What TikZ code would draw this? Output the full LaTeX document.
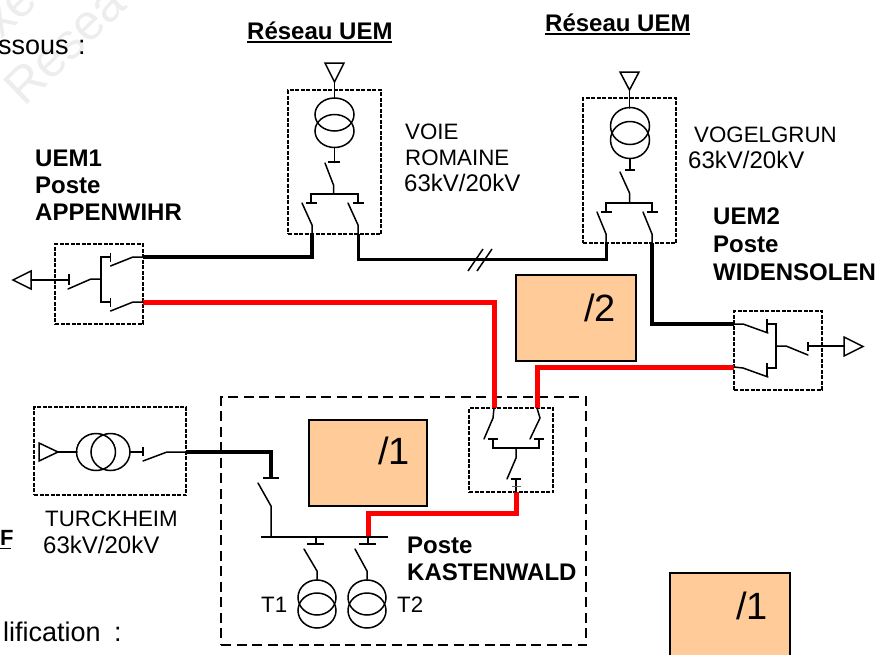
\documentclass[tikz,border=0pt]{standalone}
\usepackage{fontspec}
\setmainfont{Liberation Sans}
\usetikzlibrary{shapes.geometric}

\definecolor{studyfill}{HTML}{FFCC99}
\tikzset{
    bay/.style={draw, line width=1.9pt, dash pattern=on 4pt off 1.5pt, inner sep=0pt},
    wire/.style={line width=3.8pt, black},
    redwire/.style={line width=5pt, red},
    dev/.style={line width=1.5pt, line cap=round},
    bar/.style={line width=1.8pt},
    winding/.style={draw, ellipse, line width=1.5pt, inner sep=0pt},
    tag/.style={font=\fontsize{22.3}{26}\selectfont, anchor=base west, inner sep=0pt},
    rating/.style={font=\fontsize{24}{26}\selectfont, anchor=base west, inner sep=0pt},
    page/.style={font=\fontsize{27}{30}\selectfont, anchor=base west, inner sep=0pt},
    bold/.style={font=\fontsize{24}{26}\selectfont\bfseries, anchor=base west, inner sep=0pt},
    study/.style={draw, line width=1.5pt, fill=studyfill, inner sep=0pt},
    share/.style={font=\fontsize{38}{40}\selectfont, inner sep=0pt}
}

\begin{document}
\begin{tikzpicture}[x=1pt, y=-1pt]
    \useasboundingbox (0,0) rectangle (891,654);
    \clip (0,0) rectangle (891,654);

    % watermark and cut off page text
    \node[font=\fontsize{50}{50}\selectfont, text=black!7, rotate=44, anchor=base west] (markA) at (22,110) {Resea};
    \node[font=\fontsize{50}{50}\selectfont, text=black!7, rotate=44, anchor=base west] (markB) at (-25,65) {Exe};
    \node[page] (pageA) at (-2,54) {ssous\hspace{2pt} :};
    \node[page] (pageB) at (3,641) {lification\hspace{6pt} :};
    \node[bold, font=\fontsize{22}{26}\selectfont\bfseries] (pageC) at (0,545) {F};
    \draw[line width=1.8pt] (pageC.base west) ++(0,3.5) -- ++(11,0);

    % study boxes
    \node[study, minimum width=120pt, minimum height=86pt] (boxB) at (576,318) {};
    \node[study, minimum width=118pt, minimum height=86pt] (boxA) at (368,463) {};
    \node[study, minimum width=120pt, minimum height=100pt] (boxC) at (730,623) {};
    \node[share] (shareB) at (600,308) {/2};
    \node[share] (shareA) at (394,451) {/1};
    \node[share] (shareC) at (752,606) {/1};

    % bays
    \node[bay, minimum width=93pt, minimum height=144pt] (voie) at (334.5,162) {};
    \node[bay, minimum width=93pt, minimum height=145pt] (vogel) at (629.5,170.5) {};
    \node[bay, minimum width=88pt, minimum height=80pt] (appen) at (99,284) {};
    \node[bay, minimum width=88pt, minimum height=79pt] (widen) at (778,350.5) {};
    \node[bay, minimum width=84pt, minimum height=84pt] (kast) at (511,450) {};
    \node[bay, minimum width=152pt, minimum height=88pt] (turck) at (110,451) {};
    \node[draw, line width=2.2pt, dash pattern=on 10pt off 5.5pt, minimum width=365pt, minimum height=248pt] (site) at (403.5,521) {};

    % terminals on the bay edges
    \coordinate (voieA) at (312,234);
    \coordinate (voieB) at (358,234);
    \coordinate (vogelA) at (606,243);
    \coordinate (vogelB) at (652,243);
    \coordinate (appenA) at (143,257);
    \coordinate (appenB) at (143,302);
    \coordinate (widenA) at (734,324);
    \coordinate (widenB) at (734,367);
    \coordinate (kastA) at (494,408);
    \coordinate (kastB) at (537,408);
    \coordinate (kastC) at (516,492);
    \coordinate (turckA) at (186,452);
    \coordinate (busIn) at (368,537);
    \coordinate (lineIn) at (271,478);

    % connections
    \draw[wire] (voieA) |- (appenA);
    \draw[wire, line width=3pt] (voieB) -- ++(0,25) -| (vogelA);
    \draw[wire, line width=4.8pt] (vogelB) |- (widenA);
    \draw[wire] (turckA) -| (lineIn);
    \draw[redwire] (appenB) -| (kastA);
    \draw[redwire] (widenB) -| (kastB);
    \draw[redwire] (kastC) |- ++(-148,21) -- (busIn);
    \draw[line width=1.5pt] (voieB) ++(110,37) -- ++(15,-22);
    \draw[line width=1.5pt] (voieB) ++(119,37) -- ++(15,-22);

    % VOIE ROMAINE
    \draw[dev] (325,63) -- (344,63) -- (334.5,82) -- cycle;
    \draw[dev] (334.5,82) -- (334.5,98);
    \node[winding, minimum width=39pt, minimum height=33pt] (voieU) at (334.5,114.5) {};
    \node[winding, minimum width=39pt, minimum height=33pt] (voieL) at (334.5,131) {};
    \draw[dev] (voieL.south) -- (334.5,162);
    \draw[bar] (328,162) -- (340,162);
    \draw[dev] (325,163) -- (333.5,185) -- (333.5,194);
    \draw[bar] (306,203) -- (317,203) (353,203) -- (364,203);
    \draw[bar] (311,203) |- (358,194) -- (358,203);
    \draw[dev] (302,203) -- (312,225) -- (voieA);
    \draw[dev] (348,203) -- (358,225) -- (voieB);

    % VOGELGRUN
    \draw[dev] (620,72) -- (639,72) -- (629.5,90) -- cycle;
    \draw[dev] (629.5,90) -- (629.5,108);
    \node[winding, minimum width=39pt, minimum height=37pt] (vogelU) at (630,126) {};
    \node[winding, minimum width=39pt, minimum height=37pt] (vogelL) at (630,140) {};
    \draw[dev] (vogelL.south) -- (630,170);
    \draw[bar] (625,170) -- (635,170);
    \draw[dev] (620,172) -- (629.5,193) -- (629.5,203);
    \draw[bar] (601,212) -- (612,212) (647,212) -- (658,212);
    \draw[bar] (606,212) |- (652,203) -- (652,212);
    \draw[dev] (597,212) -- (606,234) -- (vogelA);
    \draw[dev] (643,212) -- (652,234) -- (vogelB);

    % APPENWIHR
    \draw[dev] (13,280) -- (31,271) -- (31,289) -- cycle;
    \draw[dev] (31,280) -- (69,280);
    \draw[bar] (69,274) -- (69,285);
    \draw[dev] (68,289) -- (91,279) -- (101,279);
    \draw[bar] (110.5,257) -| (101,302) -- (110.5,302);
    \draw[bar] (110.5,253) -- (110.5,262) (110.5,298) -- (110.5,307);
    \draw[dev] (110.5,266) -- (133,257) -- (appenA);
    \draw[dev] (110.5,311) -- (133,302) -- (appenB);

    % WIDENSOLEN
    \draw[dev] (widenA) -- (743,324) -- (768,333);
    \draw[dev] (widenB) -- (743,368) -- (768,377);
    \draw[bar] (767,319) -- (767,332) (767,363) -- (767,377);
    \draw[bar] (767,324) -| (776,368) -- (767,368);
    \draw[dev] (776,346) -- (786,346) -- (808,355);
    \draw[bar] (808,342) -- (808,351);
    \draw[dev] (808,346) -- (844,346);
    \draw[dev] (844,337) -- (863,346.5) -- (844,356) -- cycle;

    % KASTENWALD bay
    \draw[dev] (kastA) -- (493,418) -- (484,439);
    \draw[dev] (kastB) -- (540,418) -- (530,439);
    \draw[bar] (488,439) -- (498,439) (534,439) -- (544,439);
    \draw[bar] (493,439) |- (539,448) -- (539,439);
    \draw[dev] (516,448) -- (516,458) -- (507,479);
    \draw[bar] (511,479) -- (521,479);
    \draw[dev] (516,479) -- (kastC);
    \draw[line width=1pt, black!60] (512,486) -- (521,486);

    % TURCKHEIM
    \draw[dev] (39,443) -- (58,452) -- (39,461) -- cycle;
    \draw[dev] (58,452) -- (77,452);
    \node[winding, minimum width=39pt, minimum height=37pt] (turckL) at (96,452) {};
    \node[winding, minimum width=39pt, minimum height=37pt] (turckR) at (110.5,452) {};
    \draw[dev] (turckR.east) -- (143,452);
    \draw[bar] (143,447) -- (143,456);
    \draw[dev] (143,461) -- (167,452) -- (turckA);

    % KASTENWALD busbar
    \draw[bar] (261,537) -- (388,537);
    \draw[bar] (263,478) -- (279,478);
    \draw[dev] (271,537) -- (271,506) -- (258,483);
    \draw[dev] (316,537) -- (316,544);
    \draw[dev] (368,537) -- (368,544);
    \draw[bar] (307,544) -- (324,544) (359,544) -- (376,544);
    \node[winding, minimum width=38pt, minimum height=35pt] (t1U) at (317,597.5) {};
    \node[winding, minimum width=38pt, minimum height=35pt] (t1L) at (317,610.5) {};
    \node[winding, minimum width=38pt, minimum height=35pt] (t2U) at (367,597.5) {};
    \node[winding, minimum width=38pt, minimum height=35pt] (t2L) at (367,610.5) {};
    \draw[dev] (304,549) -- (317,571) -- (t1U.north);
    \draw[dev] (355,549) -- (367,571) -- (t2U.north);

    % labels
    \node[bold] (netA) at (247,39) {Réseau UEM};
    \node[bold] (netB) at (545,31) {Réseau UEM};
    \draw[line width=1.8pt] (netA.base west) ++(0,3) -- ++(145,0);
    \draw[line width=1.8pt] (netB.base west) ++(0,3) -- ++(145,0);
    \node[tag] (voieT1) at (405,139) {VOIE};
    \node[tag] (voieT2) at (405,165) {ROMAINE};
    \node[rating] (voieT3) at (404,191) {63kV/20kV};
    \node[tag] (vogelT1) at (694,142) {VOGELGRUN};
    \node[rating] (vogelT2) at (688,168) {63kV/20kV};
    \node[bold] (appenT1) at (35,166) {UEM1};
    \node[bold] (appenT2) at (35,193) {Poste};
    \node[bold] (appenT3) at (35,220) {APPENWIHR};
    \node[bold] (widenT1) at (713,224) {UEM2};
    \node[bold] (widenT2) at (713,252) {Poste};
    \node[bold] (widenT3) at (713,280) {WIDENSOLEN};
    \node[tag] (turckT1) at (45,526) {TURCKHEIM};
    \node[rating] (turckT2) at (43,553) {63kV/20kV};
    \node[bold] (kastT1) at (407,553) {Poste};
    \node[bold] (kastT2) at (407,580) {KASTENWALD};
    \node[tag] (t1T) at (261,612) {T1};
    \node[tag] (t2T) at (397,612) {T2};
\end{tikzpicture}
\end{document}
